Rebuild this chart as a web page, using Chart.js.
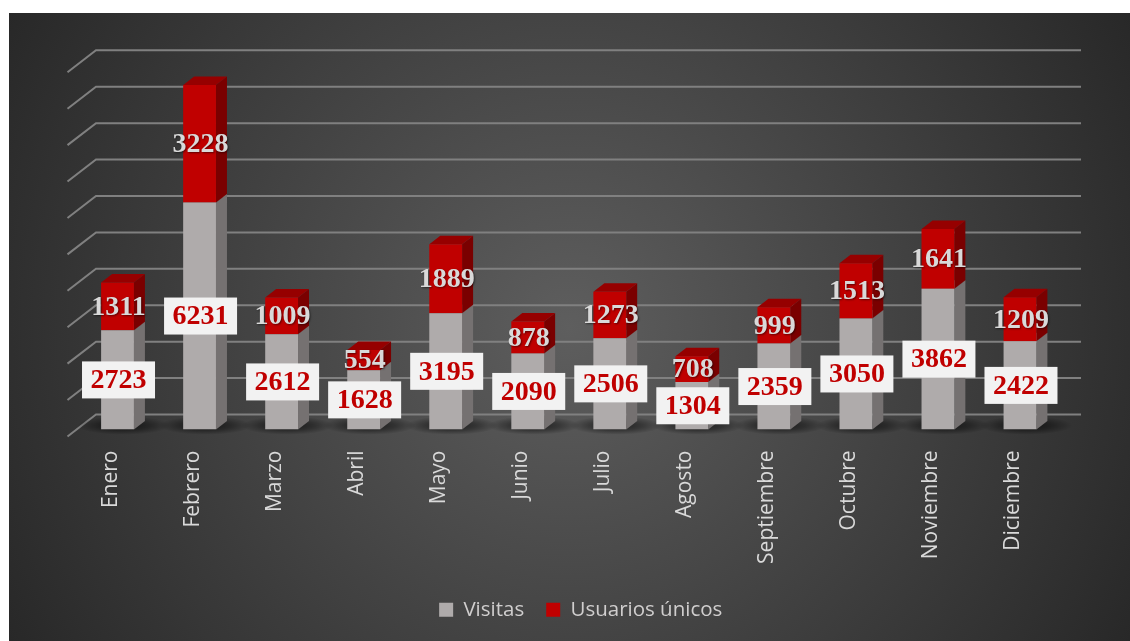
<!DOCTYPE html>
<html>
<head>
<meta charset="utf-8">
<style>
    html, body { margin: 0; padding: 0; background: #fff; overflow: hidden; }
    #panel {
        position: absolute; left: 9px; top: 13px; width: 1121px; height: 628px;
        background: radial-gradient(circle 642px at 50% 50%, #5e5e5e 0%, #282828 100%);
    }
    #chart { position: absolute; left: 0; top: 0; }
</style>
<script src="https://cdn.jsdelivr.net/npm/chart.js@4"></script>
</head>
<body>
<div id="panel"></div>
<canvas id="chart" width="1130" height="641"></canvas>
<script>
const meses = ["Enero", "Febrero", "Marzo", "Abril", "Mayo", "Junio", "Julio", "Agosto", "Septiembre", "Octubre", "Noviembre", "Diciembre"];
const visitas = [2723, 6231, 2612, 1628, 3195, 2090, 2506, 1304, 2359, 3050, 3862, 2422];
const usuarios = [1311, 3228, 1009, 554, 1889, 878, 1273, 708, 999, 1513, 1641, 1209];

// colores de cada serie: frente, lado, tapa
const GRIS = ["#afabab", "#757171", "#8b8888"];
const ROJO = ["#c00000", "#7a0000", "#960000"];

// Profundidad del "3D"
const DX = 11, DY = 8.5;

function poly(ctx, pts, color) {
    ctx.fillStyle = color;
    ctx.beginPath();
    pts.forEach((p, i) => i ? ctx.lineTo(p[0], p[1]) : ctx.moveTo(p[0], p[1]));
    ctx.closePath();
    ctx.fill();
}

const fondo3d = {
    id: "fondo3d",
    afterLayout(chart) {
        // la leyenda no está centrada en el panel
        chart.legend.left += 12;
        chart.legend.right += 12;
        chart.legend.top -= 11;
        chart.legend.bottom -= 11;
    },
    beforeDatasetsDraw(chart) {
        const ctx = chart.ctx;
        const y = chart.scales.y;
        const a = chart.chartArea;

        // Rejilla
        ctx.save();
        ctx.strokeStyle = "#808080";
        ctx.lineWidth = 2;
        y.ticks.forEach(t => {
            const py = y.getPixelForValue(t.value);
            ctx.beginPath();
            ctx.moveTo(a.left - 9, py + 7);
            ctx.lineTo(a.left + 19.5, py - 15);
            ctx.lineTo(a.right + 20, py - 15);
            ctx.stroke();
        });
        ctx.restore();

        // Sombra en el suelo
        const base = y.getPixelForValue(0);
        chart.getDatasetMeta(0).data.forEach(b => {
            ctx.save();
            ctx.translate(b.x + 6, base - 4);
            ctx.scale(1, 0.2);
            const g = ctx.createRadialGradient(0, 0, 0, 0, 0, 46);
            g.addColorStop(0, "rgba(0,0,0,0.65)");
            g.addColorStop(0.55, "rgba(0,0,0,0.35)");
            g.addColorStop(1, "rgba(0,0,0,0)");
            ctx.fillStyle = g;
            ctx.beginPath();
            ctx.arc(0, 0, 46, 0, Math.PI * 2);
            ctx.fill();
            ctx.restore();
        });

        // Lados y tapas
        [[0, GRIS], [1, ROJO]].forEach(([idx, c]) => {
            chart.getDatasetMeta(idx).data.forEach(b => {
                const der = b.x + b.width / 2, izq = b.x - b.width / 2;
                poly(ctx, [[der, b.base], [der + DX, b.base - DY], [der + DX, b.y - DY], [der, b.y]], c[1]);
                poly(ctx, [[izq, b.y], [izq + DX, b.y - DY], [der + DX, b.y - DY], [der, b.y]], c[2]);
            });
        });
    },
    afterDatasetsDraw(chart) {
        const ctx = chart.ctx;
        ctx.save();
        ctx.textAlign = "center";
        ctx.textBaseline = "middle";
        ctx.font = "bold 28px 'Liberation Serif'";

        // Etiquetas de Visitas (caja blanca)
        chart.getDatasetMeta(0).data.forEach((b, i) => {
            const cy = (b.y + b.base) / 2;
            ctx.fillStyle = "#f2f2f2";
            ctx.fillRect(b.x - 35.5, cy - 18.5, 73, 37);
            ctx.fillStyle = "#c00000";
            ctx.fillText(visitas[i], b.x + 1, cy + 1);
        });

        // Etiquetas de Usuarios
        ctx.shadowColor = "rgba(0,0,0,0.5)";
        ctx.shadowBlur = 2;
        ctx.shadowOffsetX = 1;
        ctx.shadowOffsetY = 1;
        ctx.fillStyle = "#d9d9d9";
        chart.getDatasetMeta(1).data.forEach((b, i) => {
            ctx.fillText(usuarios[i], b.x + 1, (b.y + b.base) / 2 + 1);
        });
        ctx.restore();
    }
};

new Chart(document.getElementById("chart"), {
    type: "bar",
    data: {
        labels: meses,
        datasets: [
            { label: "Visitas", data: visitas, backgroundColor: GRIS[0], barPercentage: 0.4, categoryPercentage: 1 },
            { label: "Usuarios únicos", data: usuarios, backgroundColor: ROJO[0], barPercentage: 0.4, categoryPercentage: 1 }
        ]
    },
    plugins: [fondo3d],
    options: {
        responsive: false,
        animation: false,
        events: [],
        layout: { padding: { left: 76.5, right: 69, top: 65.3, bottom: 0 } },
        plugins: {
            tooltip: { enabled: false },
            legend: {
                position: "bottom",
                labels: {
                    color: "#d0cece",
                    boxWidth: 14,
                    boxHeight: 14,
                    padding: 22,
                    font: { family: "'Open Sans'", size: 20.5 }
                }
            }
        },
        scales: {
            x: {
                stacked: true,
                afterFit: s => { s.height = 159; },
                grid: { display: false },
                border: { display: false },
                ticks: {
                    color: "#d9d9d9",
                    minRotation: 90,
                    maxRotation: 90,
                    labelOffset: -7,
                    padding: 13,
                    autoSkip: false,
                    font: { family: "'Open Sans'", size: 21 }
                }
            },
            y: {
                stacked: true,
                display: false,
                min: 0,
                max: 10000,
                ticks: { stepSize: 1000 }
            }
        }
    }
});
</script>
</body>
</html>
